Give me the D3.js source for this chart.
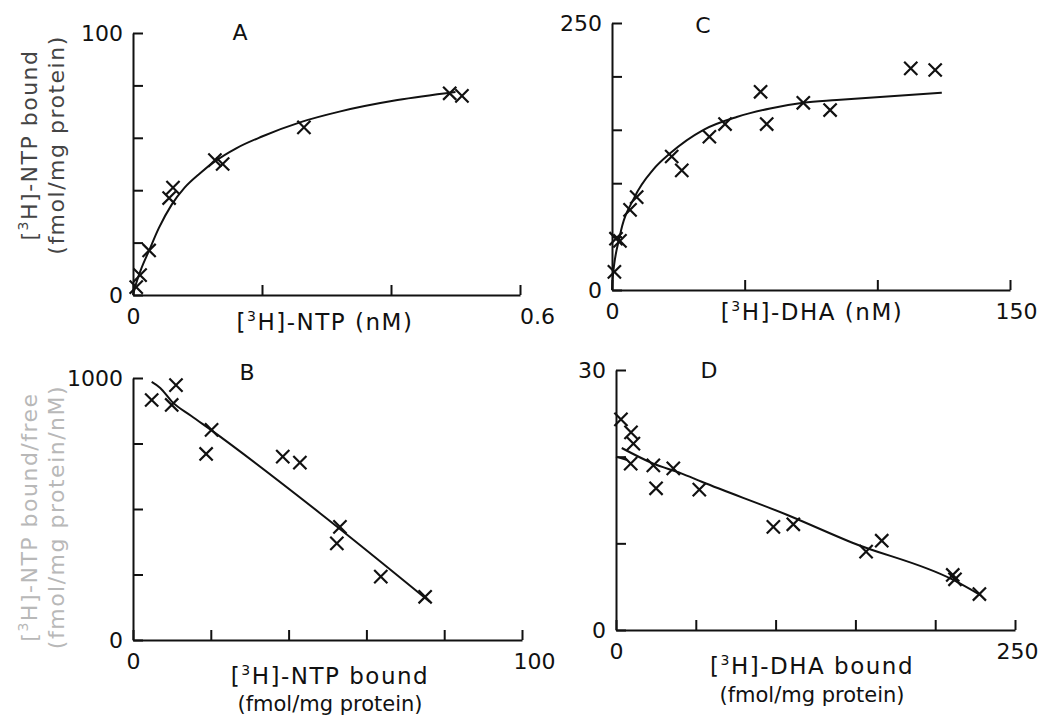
<!DOCTYPE html>
<html>
<head>
<meta charset="utf-8">
<script src="https://cdn.jsdelivr.net/npm/d3@7"></script>
<style>
  body { margin: 0; background: #fff; }
  text { font-family: "DejaVu Sans", sans-serif; fill: #111; }
</style>
</head>
<body>
<div id="chart"></div>
<script>
// A: NTP saturation (nM vs fmol/mg protein)
const ntpFree = [0.005, 0.011, 0.025, 0.056, 0.062, 0.127, 0.139, 0.265, 0.491, 0.510];
const ntpBound = [3, 7.6, 17, 37, 41, 51.5, 50, 64, 77, 76];
const ntpFitFree = [0, 0.005, 0.012, 0.025, 0.04, 0.06, 0.08, 0.104, 0.127, 0.16, 0.2, 0.26, 0.32, 0.41, 0.5];
const ntpFitBound = [0, 4.5, 9.5, 17, 25.5, 34.5, 41, 46.5, 51, 56, 60.5, 66, 70, 74.4, 77.5];

// B: NTP Scatchard (bound vs bound/free)
const ntpSBound = [4.8, 11.05, 9.95, 20.2, 18.8, 38.5, 42.9, 53.2, 52.4, 63.7, 75.1];
const ntpSRatio = [916, 973, 897, 802, 710, 700, 677, 432, 369, 242, 165];
const ntpSFitBound = [4.8, 7, 10, 15, 20.2, 48, 76.3];
const ntpSFitRatio = [985, 962, 910, 855, 800, 485, 146];

// C: DHA saturation
const dhaFree = [0.9, 1.5, 3, 6.8, 9.3, 22.5, 26.3, 36.7, 42.6, 56, 58.3, 72.1, 82.2, 112.6, 121.8];
const dhaBound = [17, 48, 46, 75, 87, 125, 112, 143.5, 155.4, 185.6, 155.4, 175.3, 168.5, 207.5, 206];
const dhaFitFree = [0, 0.2, 2.9, 8.5, 15.6, 21.9, 34.5, 47, 59.6, 72.1, 84.7, 124.3];
const dhaFitBound = [0, 9.4, 50, 87, 113, 128, 150, 162, 170, 175.3, 177.8, 184.7];

// D: DHA Scatchard
const dhaSBound = [3.1, 9.4, 10.9, 9.2, 23.4, 35.9, 25.1, 52.2, 98.6, 111.1, 156.7, 166.5, 212.4, 211, 227.7];
const dhaSRatio = [24.3, 22.8, 21.5, 19.2, 19.0, 18.65, 16.35, 16.2, 11.9, 12.2, 9.04, 10.3, 5.85, 6.35, 4.15];
const dhaSFitBound = [3.6, 23.4, 40.5, 53.7, 107, 147.7, 211, 228.6];
const dhaSFitRatio = [21.0, 19.2, 18.1, 17.1, 13.3, 10.1, 5.8, 4.0];
const dhaSStubBound = [0, 7];
const dhaSStubRatio = [20, 19.6];

const svg = d3.select("#chart").append("svg")
  .attr("width", 1052).attr("height", 716)
  .style("background", "#fff");

const zip = (a, b) => a.map((v, i) => [v, b[i]]);

const panels = [
  { letter: "A", lx: 240, ly: 32, left: 133, right: 520, top: 33, bottom: 295,
    xDomain: [0, 0.6], yDomain: [0, 100],
    xTicks: [0, 0.2, 0.4, 0.6], yTicks: [0, 20, 40, 60, 80, 100], endDx: 17,
    pts: zip(ntpFree, ntpBound), fits: [zip(ntpFitFree, ntpFitBound)],
    xTitle: ["NTP (nM)"], xTitleX: 325, xTitleY: [330],
    yTitle: ["NTP bound", "(fmol/mg protein)"], yTitleY: 145, yTitleFill: "#444" },
  { letter: "C", lx: 703, ly: 25, left: 612, right: 1010, top: 23, bottom: 290,
    xDomain: [0, 150], yDomain: [0, 250],
    xTicks: [0, 50, 100, 150], yTicks: [0, 50, 100, 150, 200, 250], endDx: 6,
    pts: zip(dhaFree, dhaBound), fits: [zip(dhaFitFree, dhaFitBound)],
    xTitle: ["DHA (nM)"], xTitleX: 812, xTitleY: [320] },
  { letter: "B", lx: 247, ly: 372, left: 133, right: 522, top: 378, bottom: 640,
    xDomain: [0, 100], yDomain: [0, 1000],
    xTicks: [0, 20, 40, 60, 80, 100], yTicks: [0, 250, 500, 750, 1000], endDx: 12,
    pts: zip(ntpSBound, ntpSRatio), fits: [zip(ntpSFitBound, ntpSFitRatio)],
    xTitle: ["NTP bound", "(fmol/mg protein)"], xTitleX: 330, xTitleY: [684, 711],
    yTitle: ["NTP bound/free", "(fmol/mg protein/nM)"], yTitleY: 517, yTitleFill: "#b8b8b8" },
  { letter: "D", lx: 709, ly: 370, left: 616, right: 1015, top: 370, bottom: 630,
    xDomain: [0, 250], yDomain: [0, 30],
    xTicks: [0, 50, 100, 150, 200, 250], yTicks: [0, 10, 20, 30], endDx: 2,
    pts: zip(dhaSBound, dhaSRatio),
    fits: [zip(dhaSFitBound, dhaSFitRatio), zip(dhaSStubBound, dhaSStubRatio)],
    xTitle: ["DHA bound", "(fmol/mg protein)"], xTitleX: 812, xTitleY: [674, 702] }
];

// "[3H]-" prefix with a small raised 3
function tritium(sel, rest) {
  sel.append("tspan").text("[");
  sel.append("tspan").attr("font-size", 14).attr("dy", -9).text("3");
  sel.append("tspan").attr("dy", 9).text("H]-");
  sel.append("tspan").text(rest);
}

panels.forEach(p => {
  const g = svg.append("g");
  const x = d3.scaleLinear().domain(p.xDomain).range([p.left, p.right]);
  const y = d3.scaleLinear().domain(p.yDomain).range([p.bottom, p.top]);
  const endsOnly = ticks => (d, i) => (i === 0 || i === ticks.length - 1) ? d3.format("~g")(d) : "";

  const xAxis = g.append("g")
    .attr("transform", `translate(0,${p.bottom})`)
    .call(d3.axisBottom(x).tickValues(p.xTicks).tickSizeInner(-10).tickSizeOuter(0)
      .tickPadding(13).tickFormat(endsOnly(p.xTicks)));
  xAxis.selectAll(".tick").filter((d, i) => i === p.xTicks.length - 1)
    .select("text").attr("dx", p.endDx);

  const yAxis = g.append("g")
    .attr("transform", `translate(${p.left},0)`)
    .call(d3.axisLeft(y).tickValues(p.yTicks).tickSizeInner(-10).tickSizeOuter(0)
      .tickPadding(10).tickFormat(endsOnly(p.yTicks)));

  [xAxis, yAxis].forEach(a => {
    a.attr("font-family", null).attr("font-size", null);
    a.select(".domain").attr("stroke", "#111").attr("stroke-width", 2);
    a.selectAll(".tick line").attr("stroke", "#111").attr("stroke-width", 2);
    a.selectAll(".tick text").attr("font-size", 22).attr("fill", "#111");
  });

  // fitted curves
  const line = d3.line().x(d => x(d[0])).y(d => y(d[1])).curve(d3.curveMonotoneX);
  p.fits.forEach(f => {
    g.append("path").datum(f)
      .attr("fill", "none").attr("stroke", "#111").attr("stroke-width", 2)
      .attr("d", line);
  });

  // data points
  g.selectAll("path.pt").data(p.pts).join("path")
    .attr("class", "pt")
    .attr("transform", d => `translate(${x(d[0])},${y(d[1])})`)
    .attr("d", d3.symbol(d3.symbolTimes, 115))
    .attr("fill", "none").attr("stroke", "#111").attr("stroke-width", 2.2);

  // panel letter
  g.append("text").attr("x", p.lx).attr("y", p.ly).attr("dy", "0.35em")
    .attr("text-anchor", "middle").attr("font-size", 22).text(p.letter);

  // x title
  p.xTitle.forEach((t, i) => {
    const tx = g.append("text").attr("x", p.xTitleX).attr("y", p.xTitleY[i])
      .attr("text-anchor", "middle").attr("font-size", i === 0 ? 23 : 21);
    if (i === 0) { tx.attr("letter-spacing", 1.5); tritium(tx, t); } else tx.text(t);
  });

  // y title
  if (p.yTitle) {
    p.yTitle.forEach((t, i) => {
      const tx = g.append("text")
        .attr("transform", `translate(${i === 0 ? 37 : 64},${p.yTitleY}) rotate(-90)`)
        .attr("text-anchor", "middle").attr("font-size", 22)
        .attr("letter-spacing", 1.5)
        .style("fill", p.yTitleFill);
      if (i === 0) tritium(tx, t); else tx.text(t);
    });
  }
});
</script>
</body>
</html>
